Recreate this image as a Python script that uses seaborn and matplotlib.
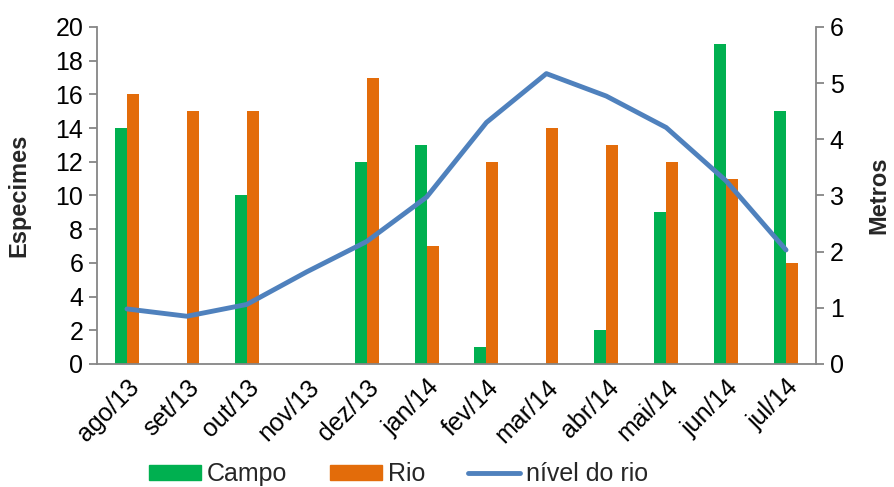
import matplotlib
matplotlib.use("Agg")
import matplotlib.pyplot as plt
from matplotlib.patches import Patch
from matplotlib.lines import Line2D
import seaborn as sns
import pandas as pd

meses = ["ago/13", "set/13", "out/13", "nov/13", "dez/13", "jan/14",
         "fev/14", "mar/14", "abr/14", "mai/14", "jun/14", "jul/14"]
campo = [14, 0, 10, 0, 12, 13, 1, 0, 2, 9, 19, 15]
rio = [16, 15, 15, 0, 17, 7, 12, 14, 13, 12, 11, 6]
nivel_rio = [0.98, 0.85, 1.06, 1.64, 2.18, 2.97, 4.30, 5.17, 4.77, 4.21, 3.26, 2.03]

cor_campo = "#00B050"
cor_rio = "#E36C0A"
cor_nivel = "#4F81BD"
cinza = "#868686"

sns.set_theme(style="white")
plt.rcParams["font.family"] = ["Liberation Sans", "DejaVu Sans"]

df = pd.DataFrame({
    "mes": meses * 2,
    "especimes": campo + rio,
    "local": ["Campo"] * len(meses) + ["Rio"] * len(meses),
})

fig = plt.figure(figsize=(8.95, 4.87), dpi=100)
ax = fig.add_axes([0.1084, 0.2526, 0.8033, 0.692])

sns.barplot(data=df, x="mes", y="especimes", hue="local", order=meses,
            hue_order=["Campo", "Rio"], palette=[cor_campo, cor_rio],
            width=0.4, linewidth=0, saturation=1, legend=False, ax=ax)

ax2 = ax.twinx()
sns.lineplot(x=meses, y=nivel_rio, sort=False, color=cor_nivel, linewidth=3.5,
             ax=ax2)

ax.set_ylim(0, 20)
ax.set_yticks(range(0, 21, 2))
ax2.set_ylim(0, 6)
ax2.set_yticks(range(0, 7))
ax.set_xlim(-0.5, len(meses) - 0.5)

for a in (ax, ax2):
    for s in a.spines.values():
        s.set_visible(False)
ax.spines["left"].set_visible(True)
ax.spines["bottom"].set_visible(True)
ax2.spines["right"].set_visible(True)
for s in (ax.spines["left"], ax.spines["bottom"], ax2.spines["right"]):
    s.set_color(cinza)
    s.set_linewidth(1.3)

ax.tick_params(axis="y", which="major", left=True, length=6, width=1.3,
               color=cinza, labelsize=18, pad=4, labelcolor="black")
ax2.tick_params(axis="y", which="major", right=True, length=6, width=1.3,
                color=cinza, labelsize=18, pad=4, labelcolor="black")
ax.tick_params(axis="x", bottom=False, labelsize=18, pad=2, labelcolor="black")
plt.setp(ax.get_xticklabels(), rotation=45, ha="right", rotation_mode="anchor")

ax.set_xlabel("")
ax.set_ylabel("Especimes", fontsize=17, fontweight="bold", labelpad=18)
ax2.set_ylabel("Metros", fontsize=17, fontweight="bold", labelpad=17)

handles = [Patch(color=cor_campo, label="Campo"),
           Patch(color=cor_rio, label="Rio"),
           Line2D([], [], color=cor_nivel, linewidth=3.5, label="nível do rio")]
fig.legend(handles=handles, loc="center", bbox_to_anchor=(0.445, 0.026),
           ncol=3, frameon=False, fontsize=18, handlelength=2.08,
           handleheight=0.56, handletextpad=0.24, columnspacing=1.7,
           borderpad=0, borderaxespad=0)

fig.savefig("out.png", dpi=100)
